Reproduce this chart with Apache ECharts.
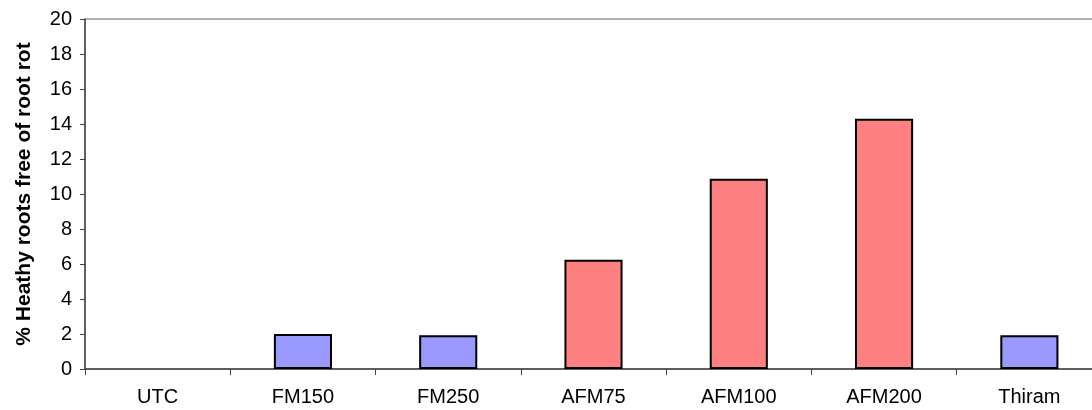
<!DOCTYPE html>
<html><head><meta charset="utf-8">
<script src="https://cdn.jsdelivr.net/npm/echarts@6/dist/echarts.min.js"></script>
<style>html,body{margin:0;padding:0;background:#fff}#c{width:1092px;height:410px}</style>
</head><body><div id="c"></div>
<script>
const categories = ['UTC','FM150','FM250','AFM75','AFM100','AFM200','Thiram'];
const values = [0, 2.0, 1.93, 6.25, 10.87, 14.3, 1.93];
const barColors = ['#9999FF','#9999FF','#9999FF','#FF8080','#FF8080','#FF8080','#9999FF'];
const yTicks = [0,2,4,6,8,10,12,14,16,18,20];
const yTitle = '% Heathy roots free of root rot';

const chart = echarts.init(document.getElementById('c'), null, {renderer:'canvas'});
const font = 'Liberation Sans, Arial, sans-serif';
chart.setOption({
  animation:false,
  grid:{left:85, width:1017, top:19, height:350, outerBoundsMode:'none', containLabel:false,
        show:true, borderColor:'#999', borderWidth:1.5, backgroundColor:'transparent'},
  xAxis:{
    type:'category', data:categories,
    axisLine:{lineStyle:{color:'#444', width:1.5}},
    axisTick:{show:true, length:6, lineStyle:{color:'#444'}, alignWithLabel:false},
    axisLabel:{color:'#000', fontSize:20, fontFamily:font, margin:18}
  },
  yAxis:{
    type:'value', min:yTicks[0], max:yTicks[yTicks.length-1], interval:2,
    name:yTitle, nameLocation:'middle', nameGap:50,
    nameTextStyle:{fontSize:21, fontWeight:'bold', fontFamily:font, color:'#000'},
    axisLine:{show:true, lineStyle:{color:'#444', width:1.5}},
    axisTick:{show:true, length:5, lineStyle:{color:'#444'}},
    splitLine:{show:false},
    axisLabel:{color:'#000', fontSize:20, fontFamily:font, margin:13}
  },
  series:[{
    type:'bar', barWidth:'40%',
    data: values.map((v,i)=>({value:v, itemStyle:{color:barColors[i], borderWidth: v===0 ? 0 : 2}})),
    itemStyle:{borderColor:'#000', borderWidth:2}
  }]
});
</script></body></html>
